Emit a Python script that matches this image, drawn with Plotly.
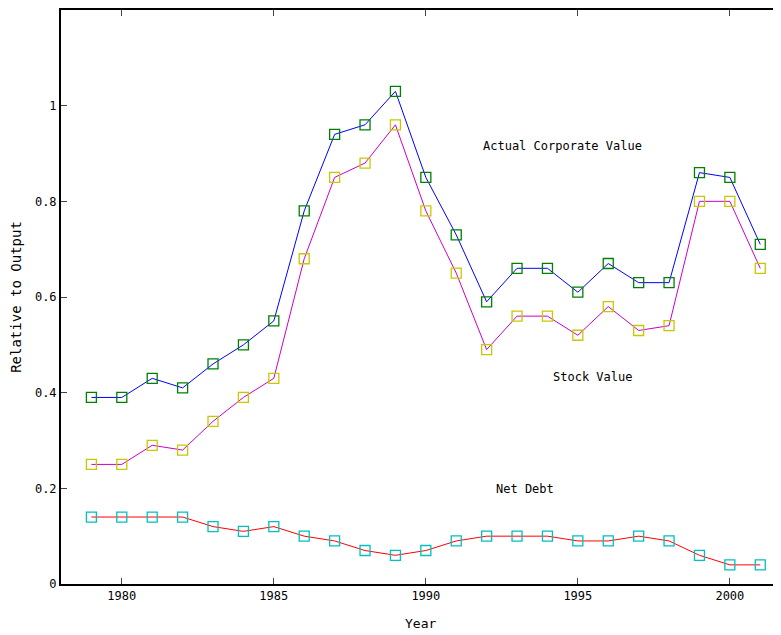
import plotly.graph_objects as go

years = list(range(1979, 2002))
corporate = [0.39, 0.39, 0.43, 0.41, 0.46, 0.50, 0.55, 0.78, 0.94, 0.96, 1.03, 0.85,
             0.73, 0.59, 0.66, 0.66, 0.61, 0.67, 0.63, 0.63, 0.86, 0.85, 0.71]
stock = [0.25, 0.25, 0.29, 0.28, 0.34, 0.39, 0.43, 0.68, 0.85, 0.88, 0.96, 0.78,
         0.65, 0.49, 0.56, 0.56, 0.52, 0.58, 0.53, 0.54, 0.80, 0.80, 0.66]
debt = [0.14, 0.14, 0.14, 0.14, 0.12, 0.11, 0.12, 0.10, 0.09, 0.07, 0.06, 0.07,
        0.09, 0.10, 0.10, 0.10, 0.09, 0.09, 0.10, 0.09, 0.06, 0.04, 0.04]

xticks = [1980, 1985, 1990, 1995, 2000]
yticks = [0, 0.2, 0.4, 0.6, 0.8, 1]
yticklabels = ["0", "0.2", "0.4", "0.6", "0.8", "1"]

labels = [("Actual Corporate Value", 1994.51, 0.9165),
          ("Stock Value", 1995.47, 0.432),
          ("Net Debt", 1993.26, 0.198)]

FONT = "DejaVu Sans Mono, monospace"

fig = go.Figure()
series = [(corporate, "#0000ff", "#008000"),
          (stock, "#cc00cc", "#c8c800"),
          (debt, "#ff0000", "#00c0c0")]
for vals, lc, mc in series:
    fig.add_trace(go.Scatter(
        x=years, y=vals, mode="lines+markers",
        line=dict(color=lc, width=1),
        marker=dict(symbol="square-open", size=10, color=mc, line=dict(width=1.3, color=mc)),
        showlegend=False))

for text, x, y in labels:
    fig.add_annotation(x=x, y=y, text=text, showarrow=False,
                       font=dict(family=FONT, size=12, color="black"))

# x-axis title, centred under the visible part of the axis
fig.add_annotation(x=1989.81, y=0, xref="x", yref="paper", yanchor="middle", yshift=-39,
                   text="Year", showarrow=False, font=dict(family=FONT, size=13, color="black"))

fig.update_layout(
    width=800, height=635,
    margin=dict(l=53, r=0, t=2, b=59),
    plot_bgcolor="white", paper_bgcolor="white",
    font=dict(family=FONT, size=12, color="black"),
    xaxis=dict(range=[1978, 2002.57], tickvals=xticks, ticks="inside", ticklen=6,
               showline=True, linecolor="black", linewidth=2, mirror="ticks",
               showgrid=False, zeroline=False, automargin=False),
    yaxis=dict(range=[0, 1.2], tickvals=yticks, ticktext=yticklabels, ticks="inside", ticklen=6,
               showline=True, linecolor="black", linewidth=2, mirror="ticks",
               showgrid=False, zeroline=False, automargin=False,
               title=dict(text="Relative to Output", standoff=18)),
)

fig.write_html("out.html")
